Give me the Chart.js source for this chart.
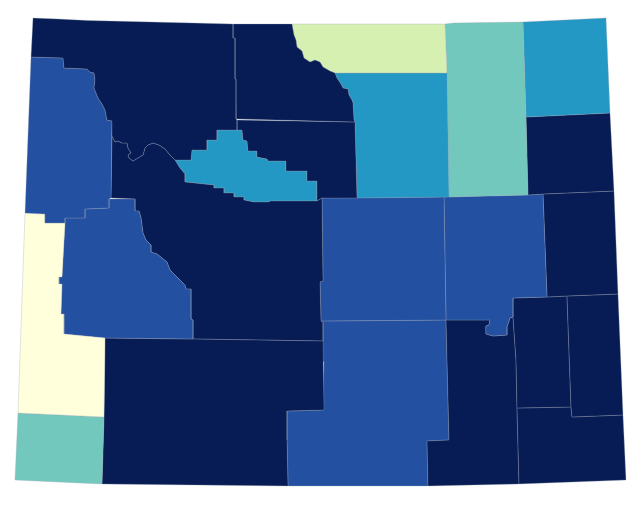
<!DOCTYPE html>
<html>
<head>
<meta charset="utf-8">
<title>Wyoming counties</title>
<script src="https://cdn.jsdelivr.net/npm/chart.js@4/dist/chart.umd.js"></script>
<style>
  html, body { margin: 0; padding: 0; background: #fff; }
  canvas { display: block; }
</style>
</head>
<body>
<canvas id="map" width="640" height="505"></canvas>
<script>
// county outlines in map units
const parkFremontLine = [[112,136],[115,142],[118,141],[122,143],[127,143],[128,148],[131,153],[128,155],[129,158],[133,161],[143,155],[145,148],[148,145],[153,143],[159,145],[165,149],[170,155],[175,160]];
const hotSpringsNorth = [[175,160],[191,160],[192,150],[207,150],[207,140],[217,140],[217,130],[242,130]];
const hotSpringsEast = [[242,130],[243,140],[247,141],[248,151],[257,151],[257,157],[267,159],[268,161],[286,161],[286,171],[307,171],[307,181],[317,181],[317,201]];
const hotSpringsSouth = [[317,201],[270,201],[269,202],[254,202],[244,200],[244,197],[234,197],[234,193],[224,193],[224,188],[214,188],[214,185],[204,184],[185,182],[185,174],[180,168],[175,160]];
const tetonEast = [[31,57],[63,58],[64,68],[87,69],[90,72],[94,73],[95,80],[94,88],[98,98],[102,104],[105,110],[107,120],[112,121]];
const subletteEast = [[135,199],[135,211],[139,211],[141,218],[143,233],[146,240],[151,245],[151,252],[157,254],[167,262],[170,270],[178,278],[185,285],[186,289],[191,289],[191,319],[193,320],[193,339]];
const sheridanSouthWest = [[292,24],[294,35],[296,40],[297,47],[302,51],[304,58],[310,62],[315,60],[320,62],[323,67],[330,71],[335,73],[337,78],[341,84],[343,88],[348,89],[349,95],[352,100],[353,103]];
const converseNotch = [[513,298],[513,317],[510,318],[507,327],[507,335],[493,336],[486,334],[486,326],[489,325],[490,320],[446,320]];

const rev = pts => pts.slice().reverse();

const park = [[33,18],[58,19],[88,20.5],[110,21],[193,23],[233,24],[233,38],[235,38],[235,79],[236,79],[236,119],[237,120],[237,130],[217,130],...rev(hotSpringsNorth).slice(1),...rev(parkFremontLine).slice(1),[112,121],...rev(tetonEast).slice(1)];
const teton = [...tetonEast,[111,198],[109,199],[109,208],[85,209],[85,218],[65,218],[65,223],[45,223],[45,214],[25,213]];
const lincoln = [[25,213],[45,214],[45,223],[65,223],[62,277],[59,277],[59,284],[62,284],[61,314],[64,314],[64,334],[105,338],[104,417],[18,413]];
const uinta = [[18,413],[104,417],[102,484],[15,480]];
const sublette = [[109,199],...subletteEast,[105,338],[64,334],[64,314],[61,314],[62,284],[59,284],[59,277],[62,277],[65,223],[65,218],[85,218],[85,209],[109,208]];
const sweetwater = [[105,338],[193,339],[323,341],[324,410],[287,411],[287,440],[288,486],[102,484],[104,417]];
const fremont = [...parkFremontLine,...rev(hotSpringsSouth).slice(1),[322,198],[323,281],[320,282],[321,321],[323,322],[323,341],[193,339],...rev(subletteEast).slice(1),[111,198]];
const hotSprings = [...hotSpringsNorth,...hotSpringsEast.slice(1),...hotSpringsSouth.slice(1)];
const bigHorn = [[233,24],...sheridanSouthWest,[354,120],[355,122],[236,119],[235,79],[235,38],[233,38]];
const washakie = [[237,120],[355,122],[357,198],[322,198],[317,201],...rev(hotSpringsEast).slice(1),[237,130]];
const sheridan = [...sheridanSouthWest.slice(0,12),[447,73],[445,24]];
const johnson = [[335,73],[447,73],[449,197],[357,198],[355,122],[354,120],[353,103],[352,100],[349,95],[348,89],[343,88],[341,84],[337,78]];
const campbell = [[445,24],[454,23],[523,22],[526,117],[528,195],[449,197],[447,73]];
const crook = [[523,22],[606,18],[610,113],[526,117]];
const weston = [[526,117],[610,113],[614,191],[543,194],[528,195]];
const natrona = [[322,198],[444,197],[446,320],[321,321],[320,282],[323,281]];
const converse = [[444,197],[528,195],[543,194],[547,297],...converseNotch];
const niobrara = [[543,194],[614,191],[618,294],[567,296],[547,297]];
const goshen = [[567,296],[618,294],[623,415],[572,417],[571,407]];
const platte = [[513,298],[547,297],[567,296],[571,407],[517,408],[516,360],[513,317]];
const laramie = [[517,408],[571,407],[572,417],[623,415],[626,480],[519,484]];
const albany = [...rev(converseNotch).slice(0,10),[516,360],[517,408],[519,484],[428,486],[427,441],[449,440]];
const carbon = [[322,321],[446,320],[449,440],[427,441],[428,486],[288,486],[287,440],[287,411],[323,410],[324,362],[323,361]];

// colour class of each county
const counties = [park, teton, lincoln, uinta, sublette, sweetwater, fremont, bigHorn, washakie, hotSprings, sheridan, johnson, campbell, crook, weston, natrona, converse, niobrara, goshen, platte, laramie, albany, carbon];
const countyNames = ["Park","Teton","Lincoln","Uinta","Sublette","Sweetwater","Fremont","Big Horn","Washakie","Hot Springs","Sheridan","Johnson","Campbell","Crook","Weston","Natrona","Converse","Niobrara","Goshen","Platte","Laramie","Albany","Carbon"];
const countyClass = [5,4,0,2,4,5,5,5,5,3,1,3,2,3,5,4,4,5,5,5,5,5,4];
const palette = ["#ffffdc","#d6f0b2","#73c8bd","#2498c4","#2450a2","#071c55"];

const datasets = counties.map((pts, i) => ({
    label: countyNames[i],
    data: [...pts, pts[0]].map(p => ({ x: p[0], y: p[1] })),
    showLine: true,
    fill: "shape",
    backgroundColor: palette[countyClass[i]],
    borderColor: "rgba(150,160,178,0.75)",
    borderWidth: 0.4,
    pointRadius: 0,
    tension: 0
}));

new Chart(document.getElementById("map"), {
    type: "scatter",
    data: { datasets },
    options: {
        responsive: false,
        animation: false,
        layout: { padding: 0 },
        clip: false,
        plugins: { legend: { display: false }, tooltip: { enabled: false } },
        scales: {
            x: { type: "linear", min: 0, max: 640, display: false },
            y: { type: "linear", min: 0, max: 505, reverse: true, display: false }
        }
    }
});
</script>
</body>
</html>
